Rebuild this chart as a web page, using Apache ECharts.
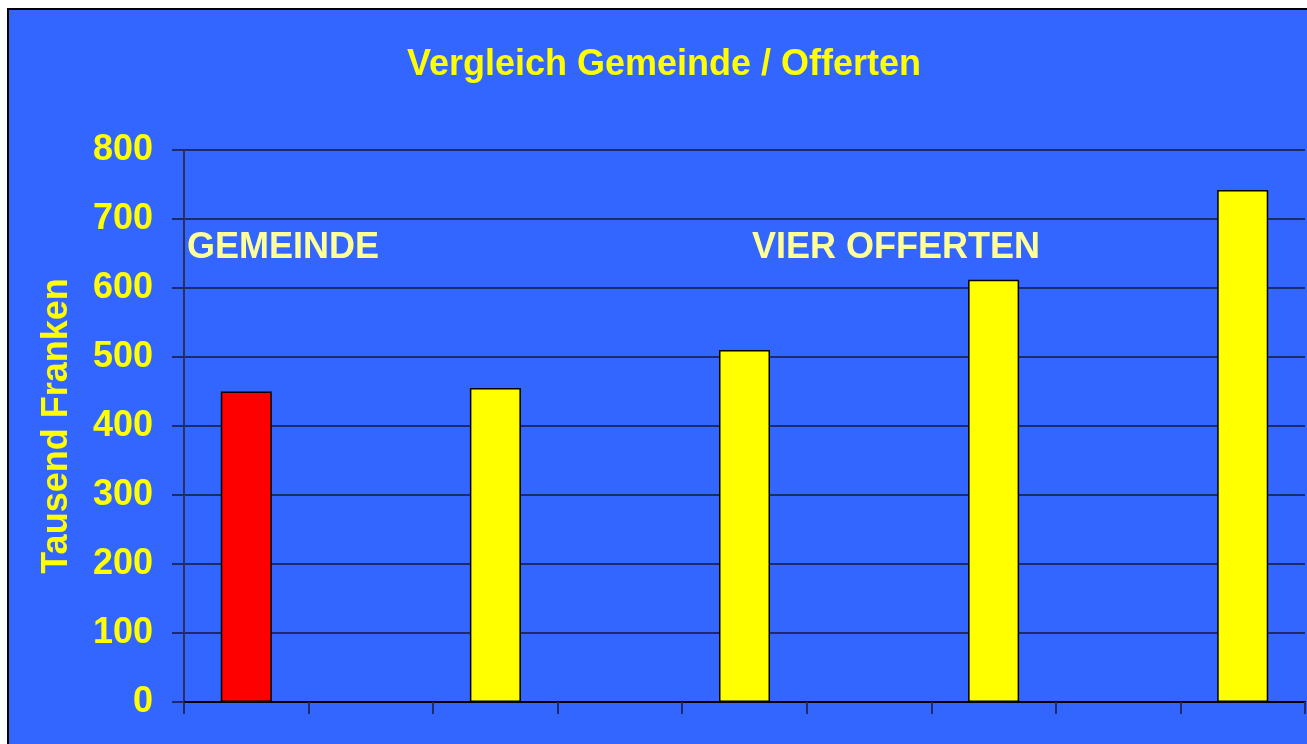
<!DOCTYPE html>
<html>
<head>
<meta charset="utf-8">
<script src="https://cdn.jsdelivr.net/npm/echarts@6/dist/echarts.min.js"></script>
<style>
    html, body { margin: 0; padding: 0; background: #fff; overflow: hidden; }
    #chart {
        position: absolute;
        left: 7px;
        top: 8px;
        width: 1310px;
        height: 746px;
        border: 2px solid #000;
    }
</style>
</head>
<body>
<div id="chart"></div>
<script>
// 9 Kategorien, Balken nur auf jeder zweiten
const categories = ['', '', '', '', '', '', '', '', ''];
const values = [450, '-', 455, '-', 510, '-', 612, '-', 742];
const barColors = ['#FF0000', null, '#FFFF00', null, '#FFFF00', null, '#FFFF00', null, '#FFFF00'];
const yTicks = [0, 100, 200, 300, 400, 500, 600, 700, 800];

const chart = echarts.init(document.getElementById('chart'));
const font = 'Liberation Sans, Arial, sans-serif';

const option = {
    backgroundColor: '#3366FF',
    animation: false,
    title: {
        text: 'Vergleich Gemeinde / Offerten',
        left: 'center',
        top: 32,
        textStyle: { color: '#FFFF00', fontSize: 36, fontWeight: 'bold', fontFamily: font }
    },
    grid: { left: 175, top: 140, width: 1121, height: 552 },
    xAxis: {
        type: 'category',
        data: categories,
        axisLine: { lineStyle: { color: '#000', width: 2 } },
        axisTick: { show: true, length: 12, lineStyle: { color: '#1c2b6b', width: 2 } },
        axisLabel: { show: false }
    },
    yAxis: {
        type: 'value',
        min: yTicks[0],
        max: yTicks[yTicks.length - 1],
        interval: 100,
        name: 'Tausend Franken',
        nameLocation: 'middle',
        nameGap: 109,
        nameTextStyle: { color: '#FFFF00', fontSize: 36, fontWeight: 'bold', fontFamily: font },
        axisLine: { show: true, lineStyle: { color: '#2b3352', width: 2 } },
        axisTick: { show: true, length: 12, lineStyle: { color: '#1c2b6b', width: 2 } },
        axisLabel: { color: '#FFFF00', fontSize: 36, fontWeight: 'bold', fontFamily: font, margin: 31, padding: [6, 0, 0, 0] },
        splitLine: { lineStyle: { color: '#1c2b6b', width: 2 } }
    },
    series: [
        {
            type: 'bar',
            barWidth: 51,
            data: values.map((v, i) => ({
                value: v,
                itemStyle: { color: barColors[i] || '#FFFF00', borderColor: '#000', borderWidth: 1.5 }
            }))
        }
    ],
    graphic: [
        {
            type: 'text',
            left: 178,
            top: 220,
            style: { text: 'GEMEINDE', fill: '#FFFF99', font: 'bold 36px ' + font }
        },
        {
            type: 'text',
            left: 743,
            top: 220,
            style: { text: 'VIER OFFERTEN', fill: '#FFFF99', font: 'bold 36px ' + font }
        }
    ]
};

chart.setOption(option);
</script>
</body>
</html>
